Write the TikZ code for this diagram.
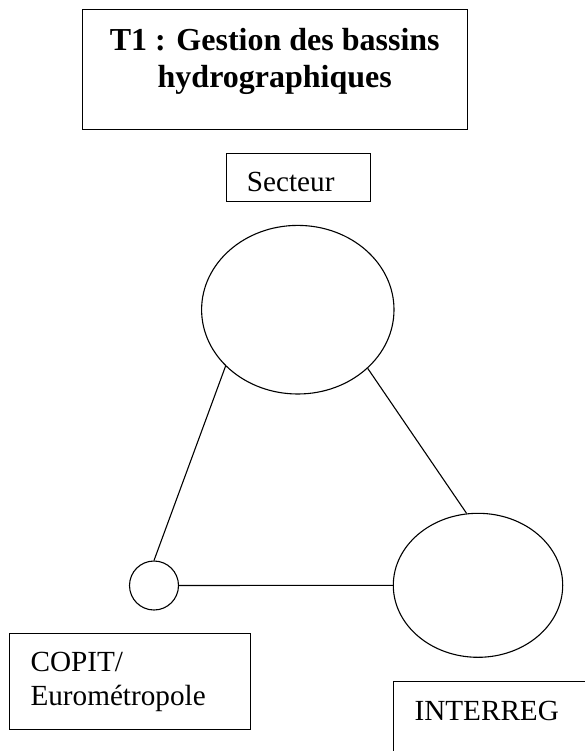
\documentclass[tikz,border=0pt]{standalone}
\usepackage{fontspec}
\setmainfont{Liberation Serif}
\usetikzlibrary{shapes.geometric}
\begin{document}
\begin{tikzpicture}[
        x=1pt, y=-1pt,
        line width=1.1pt,
        titlebox/.style={rectangle, draw, anchor=north west, inner sep=0pt, align=flush center, font=\fontsize{32}{36.7}\selectfont\bfseries},
        labelbox/.style={rectangle, draw, anchor=north west, inner xsep=20.7pt, inner ysep=0pt, align=flush left, font=\fontsize{29.2}{34.3}\selectfont},
        bubble/.style={ellipse, draw, inner sep=0pt}
    ]
        \useasboundingbox (0,0) rectangle (585,751);

        % Title
        \node[titlebox, text width=385pt, text height=40.7pt, text depth=79.3pt] (title) at (81.7,9.3) {T1 : Gestion des bassins\\hydrographiques};

        % Actors
        \node[labelbox, text width=102.9pt, text height=37.7pt, text depth=9.7pt] (secteur) at (225.7,153.3) {Secteur};
        \node[labelbox, text width=199.3pt, text height=37.4pt, text depth=58.6pt] (copit) at (9.3,633.3) {COPIT/\\Eurométropole};
        \node[labelbox, text width=165.3pt, text height=39pt, text depth=40pt] (interreg) at (393.3,681) {INTERREG};

        % Bubbles
        \node[bubble, minimum width=192.4pt, minimum height=168.6pt] (big) at (297.8,309.7) {};
        \node[bubble, minimum width=49pt, minimum height=49pt] (small) at (154,585.5) {};
        \node[bubble, minimum width=169.4pt, minimum height=144pt] (right) at (478,585.3) {};

        % Connections
        \draw (big.218.5) -- (small.north);
        \draw (big.320.5) -- (right.99.5);
        \draw (small.east) -- (right.west);

    \end{tikzpicture}
\end{document}
